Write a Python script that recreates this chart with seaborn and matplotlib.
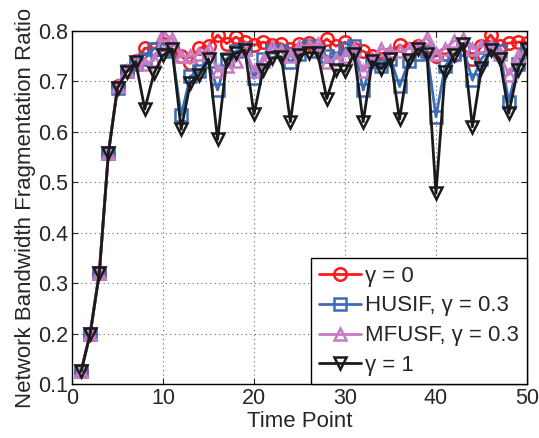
import numpy as np
import pandas as pd
import matplotlib
matplotlib.use("Agg")
import matplotlib.pyplot as plt
import seaborn as sns

# time points 1..50
time_points = list(range(1, 51))

gamma0 = [0.125, 0.20, 0.32, 0.558, 0.69, 0.72, 0.74, 0.766, 0.765, 0.775,
          0.765, 0.75, 0.736, 0.766, 0.77, 0.792, 0.775, 0.788, 0.778, 0.772,
          0.778, 0.772, 0.775, 0.765, 0.775, 0.776, 0.77, 0.784, 0.77, 0.778,
          0.765, 0.76, 0.75, 0.745, 0.755, 0.772, 0.765, 0.77, 0.76, 0.75,
          0.755, 0.752, 0.765, 0.745, 0.77, 0.792, 0.77, 0.776, 0.778, 0.776]

husif = [0.125, 0.20, 0.32, 0.558, 0.687, 0.72, 0.735, 0.745, 0.765, 0.765,
         0.76, 0.633, 0.71, 0.72, 0.74, 0.683, 0.745, 0.76, 0.765, 0.706,
         0.745, 0.76, 0.76, 0.739, 0.755, 0.77, 0.76, 0.75, 0.745, 0.765,
         0.77, 0.683, 0.74, 0.73, 0.745, 0.69, 0.74, 0.755, 0.76, 0.63,
         0.73, 0.755, 0.765, 0.703, 0.745, 0.765, 0.76, 0.66, 0.735, 0.76]

mfusf = [0.125, 0.20, 0.32, 0.558, 0.69, 0.72, 0.74, 0.735, 0.742, 0.795,
         0.785, 0.75, 0.75, 0.755, 0.765, 0.72, 0.73, 0.74, 0.765, 0.72,
         0.74, 0.768, 0.76, 0.75, 0.77, 0.77, 0.775, 0.739, 0.745, 0.75,
         0.765, 0.72, 0.745, 0.765, 0.76, 0.76, 0.765, 0.77, 0.787, 0.755,
         0.765, 0.78, 0.785, 0.765, 0.77, 0.77, 0.755, 0.713, 0.75, 0.762]

gamma1 = [0.125, 0.20, 0.32, 0.558, 0.687, 0.719, 0.739, 0.645, 0.716, 0.752,
          0.764, 0.605, 0.697, 0.713, 0.745, 0.585, 0.742, 0.756, 0.762, 0.635,
          0.723, 0.746, 0.749, 0.62, 0.752, 0.757, 0.756, 0.666, 0.723, 0.72,
          0.754, 0.62, 0.74, 0.725, 0.745, 0.625, 0.742, 0.764, 0.755, 0.478,
          0.719, 0.752, 0.775, 0.61, 0.726, 0.762, 0.745, 0.637, 0.723, 0.764]

labels = ["γ = 0", "HUSIF, γ = 0.3", "MFUSF, γ = 0.3", "γ = 1"]
colors = ["#ff1a1a", "#3b6cb7", "#c67bc2", "#1a1a1a"]
markers = ["o", "s", "^", "v"]

sns.set_style("ticks")
plt.rcParams["font.family"] = ["Liberation Sans", "DejaVu Sans"]

fig = plt.figure(figsize=(5.39, 4.38), dpi=100)
ax = fig.add_axes([0.1336, 0.1233, 0.8441, 0.8059])

for vals, lab, c, m in zip([gamma0, husif, mfusf, gamma1], labels, colors, markers):
    df = pd.DataFrame({"t": time_points, "v": vals})
    sns.lineplot(data=df, x="t", y="v", ax=ax, color=c, marker=m, label=lab,
                 linewidth=2.0, markersize=9, markerfacecolor="none",
                 markeredgecolor=c, markeredgewidth=1.8)

ax.set_xlim(0, 50)
ax.set_ylim(0.1, 0.8)
ax.set_xticks(np.arange(0, 51, 10))
ax.set_yticks(np.round(np.arange(0.1, 0.81, 0.1), 1))
ax.set_yticklabels([f"{v:.1f}" for v in np.arange(0.1, 0.81, 0.1)])
ax.grid(True, linestyle=(0, (1, 3)), color="#666666", linewidth=0.8)
ax.tick_params(direction="in", top=True, right=True, labelsize=15.5, length=4, pad=3)
for s in ax.spines.values():
    s.set_linewidth(1.0)
    s.set_color("black")

ax.set_xlabel("Time Point", fontsize=16, labelpad=1)
ax.set_ylabel("Network Bandwidth Fragmentation Ratio", fontsize=16, labelpad=1)

leg = ax.legend(loc="lower right", fontsize=16, frameon=True, fancybox=False,
                edgecolor="black", framealpha=1, borderaxespad=0.0,
                handlelength=1.9, labelspacing=0.4, borderpad=0.35, handletextpad=0.2)
leg.get_frame().set_linewidth(1.0)

fig.savefig("out.png", dpi=100)
